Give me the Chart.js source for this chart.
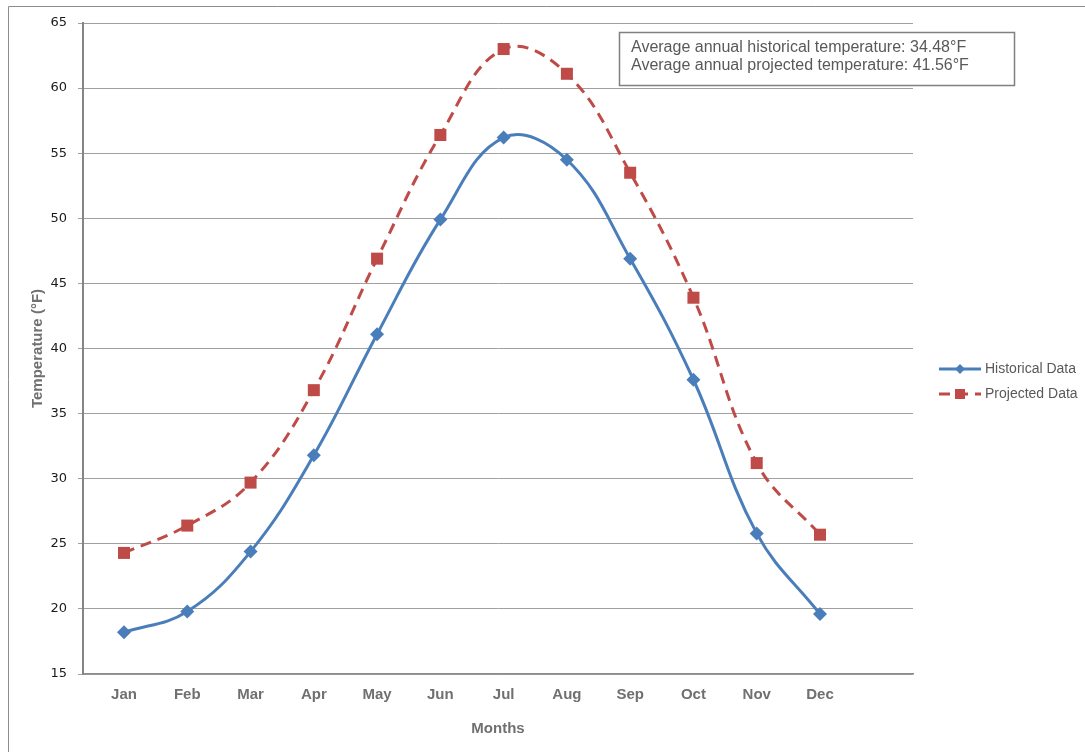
<!DOCTYPE html>
<html>
<head>
<meta charset="utf-8">
<script src="https://cdn.jsdelivr.net/npm/chart.js@4"></script>
<style>
  html, body { margin: 0; padding: 0; background: #fff; }
  #wrap { width: 1085px; height: 752px; position: relative; }
</style>
</head>
<body>
<div id="wrap"><canvas id="canvas1" width="1085" height="752"></canvas></div>
<script>
const months = ['Jan', 'Feb', 'Mar', 'Apr', 'May', 'Jun', 'Jul', 'Aug', 'Sep', 'Oct', 'Nov', 'Dec']
const historical = [18.2, 19.8, 24.4, 31.8, 41.1, 49.9, 56.2, 54.5, 46.9, 37.6, 25.8, 19.6]
const projected = [24.3, 26.4, 29.7, 36.8, 46.9, 56.4, 63.0, 61.1, 53.5, 43.9, 31.2, 25.7]
const yTicks = [15, 20, 25, 30, 35, 40, 45, 50, 55, 60, 65]
const notes = [
  'Average annual historical temperature: 34.48\u00B0F',
  'Average annual projected temperature: 41.56\u00B0F'
]

const blue = '#4a7ebb'
const red = '#be4b48'
const greyText = '#595959'
const sans = '"Liberation Sans", Arial, sans-serif'

const toPoints = arr => arr.map((v, i) => ({ x: i + 1, y: v }))

// outer frame, note box and legend drawn by hand
const extras = {
  id: 'extras',
  beforeDraw(chart) {
    const c = chart.ctx
    c.save()
    c.fillStyle = '#fff'
    c.fillRect(0, 0, chart.width, chart.height)
    c.strokeStyle = '#8c8c8c'
    c.lineWidth = 1
    c.beginPath()
    c.moveTo(8.5, chart.height)
    c.lineTo(8.5, 6.5)
    c.lineTo(chart.width, 6.5)
    c.stroke()
    c.restore()
  },
  afterDraw(chart) {
    const c = chart.ctx
    c.save()
    // note box
    c.fillStyle = '#fff'
    c.fillRect(619, 32, 395, 53)
    c.strokeStyle = '#808080'
    c.lineWidth = 1.5
    c.strokeRect(619.5, 32.5, 395, 53)
    c.fillStyle = greyText
    c.font = '16px ' + sans
    c.textBaseline = 'middle'
    notes.forEach((t, i) => c.fillText(t, 631, 48 + i * 18))

    // legend
    const sets = chart.data.datasets
    sets.forEach((ds, i) => {
      const y = 369 + i * 25
      c.strokeStyle = ds.borderColor
      c.lineWidth = 3
      c.setLineDash(ds.borderDash || [])
      c.beginPath()
      c.moveTo(939, y)
      c.lineTo(981, y)
      c.stroke()
      c.setLineDash([])
      c.fillStyle = ds.borderColor
      if (ds.pointStyle === 'rectRot') {
        c.beginPath()
        c.moveTo(960, y - 5)
        c.lineTo(965, y)
        c.lineTo(960, y + 5)
        c.lineTo(955, y)
        c.closePath()
        c.fill()
      } else {
        c.fillRect(955, y - 5, 10, 10)
      }
      c.fillStyle = greyText
      c.font = '14px ' + sans
      c.textBaseline = 'middle'
      c.fillText(ds.label, 985, y)
    })
    c.restore()
  }
}

new Chart(document.getElementById('canvas1').getContext('2d'), {
  type: 'line',
  data: {
    datasets: [{
      label: 'Historical Data',
      data: toPoints(historical),
      borderColor: blue,
      backgroundColor: blue,
      borderWidth: 3,
      tension: 0.4,
      pointStyle: 'rectRot',
      pointRadius: 7,
      pointHoverRadius: 7,
      pointBorderWidth: 0
    }, {
      label: 'Projected Data',
      data: toPoints(projected),
      borderColor: red,
      backgroundColor: red,
      borderWidth: 3,
      borderDash: [11, 7],
      tension: 0.4,
      pointStyle: 'rect',
      pointRadius: 8.5,
      pointHoverRadius: 8.5,
      pointBorderWidth: 0
    }]
  },
  options: {
    responsive: false,
    animation: false,
    events: [],
    layout: { padding: { left: 8, top: 23, right: 172, bottom: 0 } },
    plugins: {
      legend: { display: false },
      tooltip: { enabled: false }
    },
    scales: {
      x: {
        type: 'linear',
        min: 0.352,
        max: 13.47,
        afterBuildTicks: s => { s.ticks = months.map((m, i) => ({ value: i + 1 })) },
        afterFit: s => { s.height = 78 },
        grid: { display: false, drawTicks: false },
        border: { display: true, color: '#8c8c8c', width: 1.5 },
        ticks: {
          autoSkip: false,
          maxRotation: 0,
          padding: 12,
          color: '#707070',
          font: { family: sans, size: 15, weight: 'bold' },
          callback: v => months[v - 1] || ''
        },
        title: {
          display: true,
          text: 'Months',
          color: '#707070',
          padding: { top: 0, bottom: 14 },
          font: { family: sans, size: 15, weight: 'bold' }
        }
      },
      y: {
        min: 15,
        max: 65,
        afterBuildTicks: s => { s.ticks = yTicks.map(v => ({ value: v })) },
        afterFit: s => { s.width = 75 },
        grid: { color: '#a0a0a0', lineWidth: 1, tickLength: 5 },
        border: { display: true, color: '#858585', width: 2 },
        ticks: {
          padding: 11,
          color: '#1a1a1a',
          font: { family: '"DejaVu Sans", Verdana, sans-serif', size: 13 }
        },
        title: {
          display: true,
          text: 'Temperature (\u00B0F)',
          color: '#707070',
          padding: { top: 21, bottom: 0 },
          font: { family: sans, size: 15, weight: 'bold' }
        }
      }
    }
  },
  plugins: [extras]
})
</script>
</body>
</html>
